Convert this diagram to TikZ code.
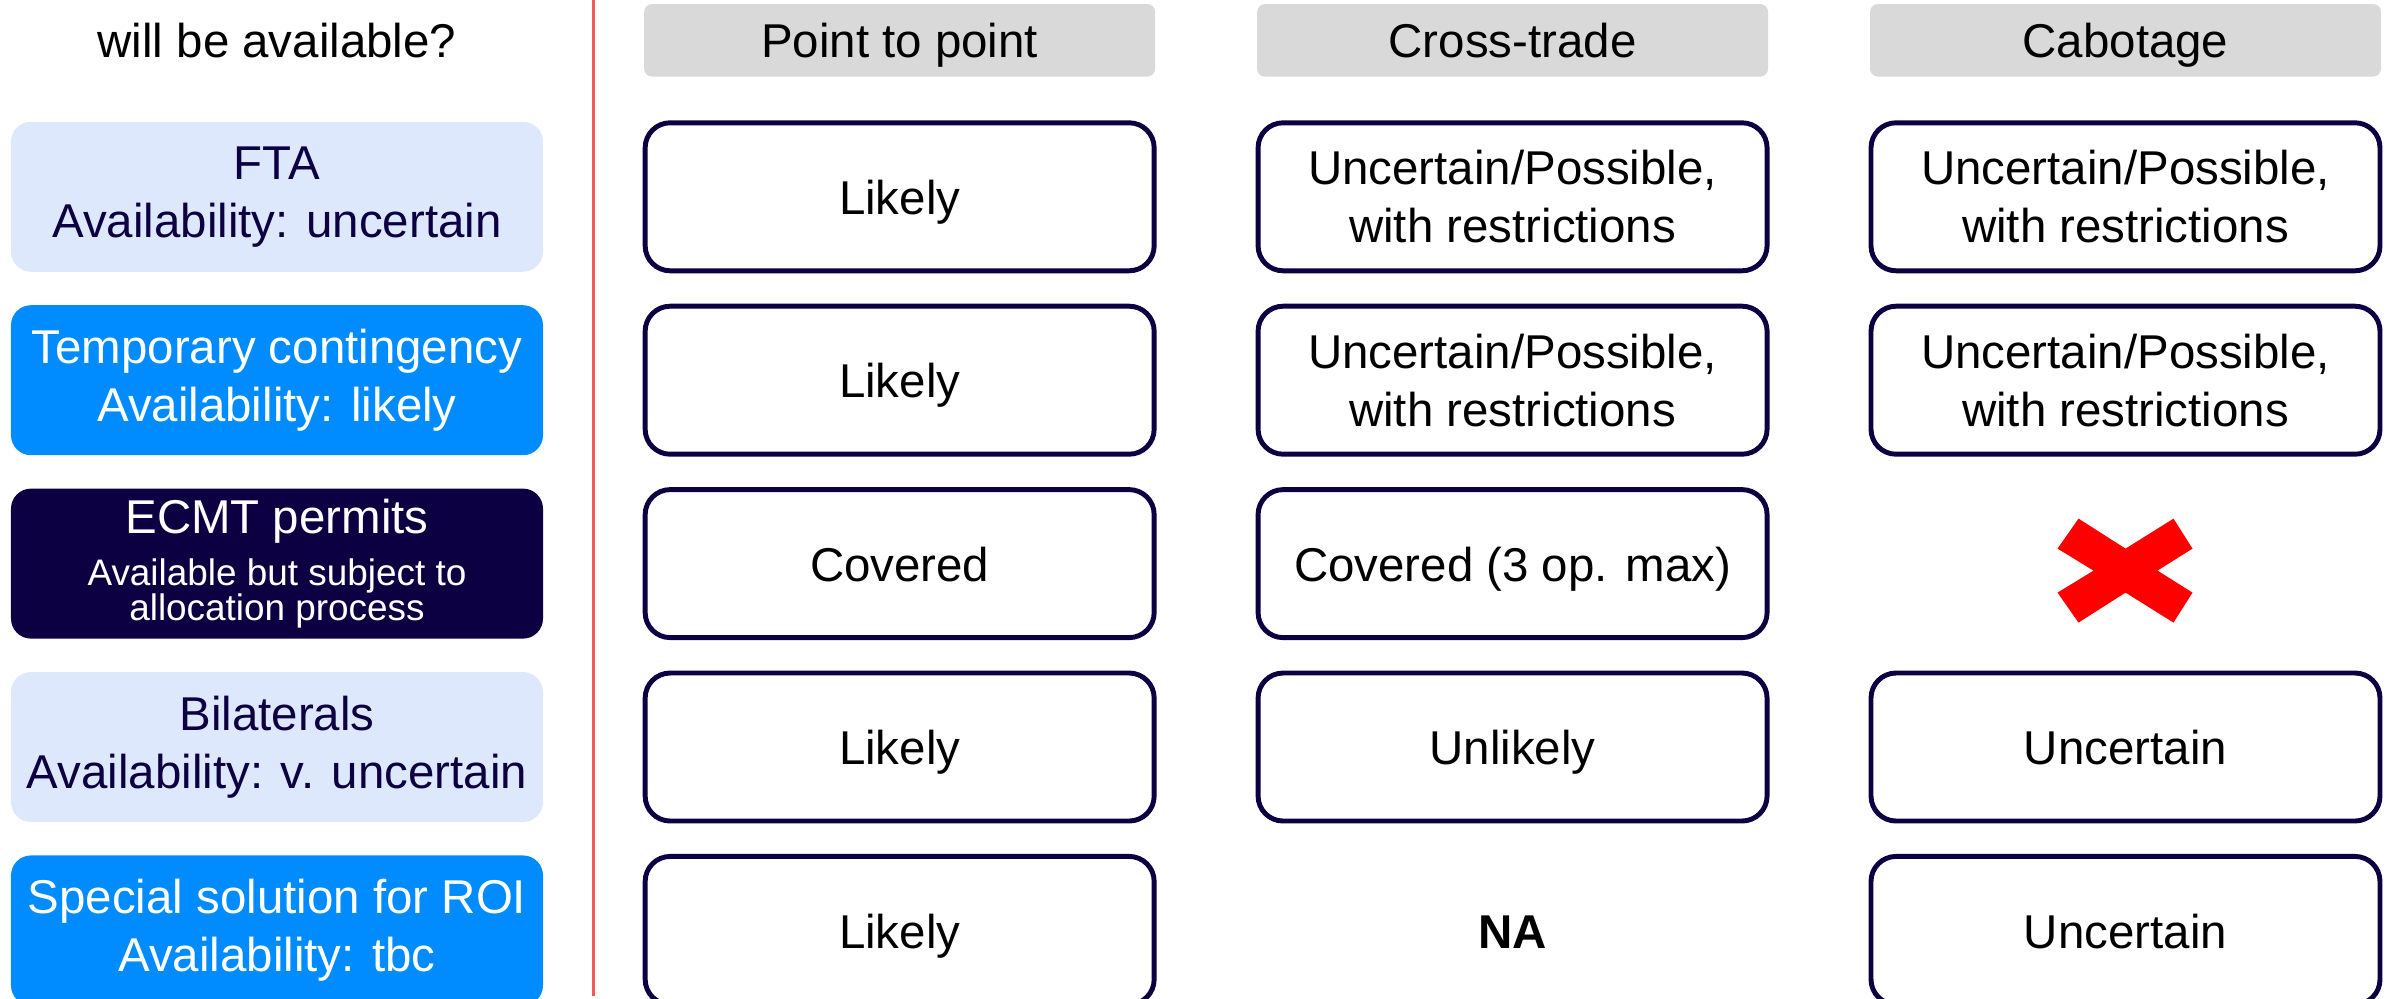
\documentclass[tikz,border=0pt]{standalone}
\usepackage{fontspec}
\setmainfont{Liberation Sans}
\usetikzlibrary{positioning, calc}

\definecolor{navy}{HTML}{0D0042}
\definecolor{paleblue}{HTML}{DEE8FC}
\definecolor{brightblue}{HTML}{008CFF}
\definecolor{headgray}{HTML}{D9D9D9}
\definecolor{divred}{HTML}{F25A5A}

\newcommand{\mainsize}{\fontsize{13.5}{16.5}\selectfont}
\newcommand{\smallsize}{\fontsize{10.5}{11}\selectfont}

\begin{document}
\begin{tikzpicture}[
  availbox/.style = {
    rounded corners=0.2cm,
    minimum width=5.32cm,
    minimum height=1.50cm,
    inner sep=1pt,
    align=center,
    font=\mainsize
  },
  pale/.style = {availbox, fill=paleblue, text=navy},
  bright/.style = {availbox, fill=brightblue, text=white},
  dark/.style = {availbox, fill=navy, text=white},
  cell/.style = {
    draw=navy,
    line width=1.4pt,
    rounded corners=0.25cm,
    minimum width=5.09cm,
    minimum height=1.48cm,
    inner sep=1pt,
    align=center,
    font=\mainsize
  },
  oneline/.style = {text height=12pt, text depth=2pt},
  blank/.style = {minimum width=5.09cm, minimum height=1.48cm, outer sep=0.7pt, align=center, font=\mainsize},
  colhead/.style = {
    fill=headgray,
    rounded corners=0.08cm,
    minimum width=5.11cm,
    minimum height=0.72cm,
    oneline,
    font=\mainsize
  },
  divider/.style = {draw=divred, line width=0.8pt},
  node distance=0.32cm and 0.99cm
]

\useasboundingbox (0,0) rectangle (23.92,-9.99);

% ======================================================
% AVAILABILITY COLUMN
% ======================================================

\node[pale] (fta) at (2.77,-1.968) {FTA\\Availability: uncertain};
\node[bright, below=0.32cm of fta] (temp) {Temporary contingency\\Availability: likely};
\node[dark, below=0.32cm of temp] (ecmt) {
  ECMT permits\\[-1.7pt]
  {\smallsize Available but subject to}\\[-6.5pt]
  {\smallsize allocation process}
};
\node[pale, below=0.32cm of ecmt] (bilat) {Bilaterals\\Availability: v. uncertain};
\node[bright, below=0.32cm of bilat] (roi) {Special solution for ROI\\Availability: tbc};

% ======================================================
% OPERATIONS GRID
% ======================================================

% ---- Point to point ----
\node[cell, oneline, right=0.99cm of fta] (p2pfta) {Likely};
\node[cell, oneline, right=0.99cm of temp] (p2ptemp) {Likely};
\node[cell, oneline, right=0.99cm of ecmt] (p2pecmt) {Covered};
\node[cell, oneline, right=0.99cm of bilat] (p2pbilat) {Likely};
\node[cell, oneline, right=0.99cm of roi] (p2proi) {Likely};

% ---- Cross-trade ----
\node[cell, right=0.99cm of p2pfta] (crossfta) {Uncertain/Possible,\\with restrictions};
\node[cell, right=0.99cm of p2ptemp] (crosstemp) {Uncertain/Possible,\\with restrictions};
\node[cell, oneline, right=0.99cm of p2pecmt] (crossecmt) {Covered (3 op. max)};
\node[cell, oneline, right=0.99cm of p2pbilat] (crossbilat) {Unlikely};
\node[blank, oneline, right=0.99cm of p2proi] (crossroi) {\textbf{NA}};

% ---- Cabotage ----
\node[cell, right=0.99cm of crossfta] (cabofta) {Uncertain/Possible,\\with restrictions};
\node[cell, right=0.99cm of crosstemp] (cabotemp) {Uncertain/Possible,\\with restrictions};
\node[blank, right=0.99cm of crossecmt] (caboecmt) {};
\node[cell, oneline, right=0.99cm of crossbilat] (cabobilat) {Uncertain};
\node[cell, oneline, right=0.99cm of crossroi] (caboroi) {Uncertain};

% not available: red cross
\fill[red, shift={($(caboecmt)+(0,-0.07)$)}]
  (-0.47,0.52) -- (0,0.22) -- (0.48,0.52) -- (0.67,0.22) -- (0.32,0)
  -- (0.67,-0.22) -- (0.48,-0.52) -- (0,-0.22) -- (-0.47,-0.52)
  -- (-0.68,-0.22) -- (-0.32,0) -- (-0.68,0.22) -- cycle;

% ---- Headers ----
\node[colhead, above=0.43cm of p2pfta] (hdrp2p) {Point to point};
\node[colhead, above=0.43cm of crossfta] (hdrcross) {Cross-trade};
\node[colhead, above=0.43cm of cabofta] (hdrcabo) {Cabotage};

\node[font=\mainsize, oneline] (question) at (fta |- hdrp2p) {will be available?};

% ---- Divider ----
\coordinate (split) at ($(fta.east)!0.5!(p2pfta.west)$);
\coordinate (divtop) at (split |- 0,0);
\coordinate (divbot) at (split |- 0,-9.96);
\draw[divider] (divtop) -- (divbot);

\end{tikzpicture}
\end{document}
